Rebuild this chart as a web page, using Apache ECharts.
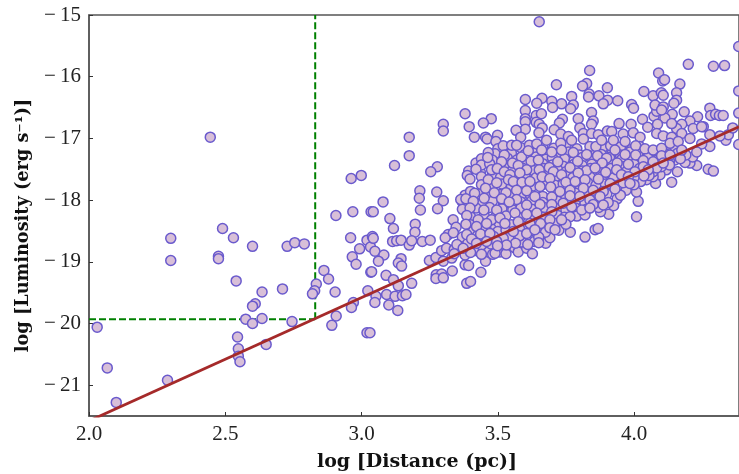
<!DOCTYPE html>
<html><head><meta charset="utf-8">
<style>html,body{margin:0;padding:0;background:#fff}#c{width:739px;height:474px}</style>
<script src="https://cdn.jsdelivr.net/npm/echarts@6/dist/echarts.min.js"></script>
</head><body><div id="c"></div>
<script>
const xTicks=[2.0,2.5,3.0,3.5,4.0];
const yTicks=[-21,-20,-19,-18,-17,-16,-15];
const fitLine=[[2.0,-21.58],[4.385,-16.81]];
const limitV=[[2.83,-19.93],[2.83,-15]];
const limitH=[[2.0,-19.93],[2.83,-19.93]];
const pointsNear=[[2.445,-16.98],[2.30,-18.62],[2.30,-18.98],[2.49,-18.46],[2.53,-18.61],[2.475,-18.91],[2.475,-18.95],[2.60,-18.75],[2.727,-18.75],[2.755,-18.69],[2.79,-18.71],[2.54,-19.31],[2.635,-19.49],[2.71,-19.44],[2.61,-19.68],[2.60,-19.72],[2.575,-19.93],[2.60,-20.0],[2.635,-19.92],[2.745,-19.97],[2.545,-20.22],[2.548,-20.41],[2.548,-20.53],[2.554,-20.62],[2.65,-20.34],[2.03,-20.06],[2.067,-20.72],[2.10,-21.28],[2.288,-20.92],[2.06,-21.53],[2.834,-19.36],[2.828,-19.47],[2.82,-19.52],[2.862,-19.14],[2.879,-19.28],[2.903,-19.49],[2.907,-19.88],[2.891,-20.03],[2.906,-18.25],[2.968,-18.19],[2.962,-17.65],[2.999,-17.60],[2.96,-18.61],[2.993,-18.79],[2.966,-18.92],[2.98,-19.04],[3.02,-18.65],[3.04,-18.59],[3.033,-18.76],[3.035,-18.19],[3.034,-19.17],[3.023,-19.47],[2.97,-19.66],[2.963,-19.74],[3.02,-20.15]];
const pointsOuter=[[3.652,-15.11],[3.837,-15.90],[4.199,-15.80],[4.291,-15.83],[4.332,-15.82],[4.384,-15.51],[4.384,-16.23],[4.384,-16.59],[4.384,-17.10],[4.09,-15.94],[4.105,-16.07],[4.112,-16.05],[4.168,-16.12],[4.036,-16.24],[4.07,-16.31],[4.10,-16.26],[4.107,-16.30],[4.156,-16.26],[4.156,-16.38],[4.146,-16.43],[3.715,-16.13],[3.826,-16.11],[3.811,-16.15],[3.902,-16.18],[3.835,-16.28],[3.833,-16.33],[3.871,-16.31],[3.903,-16.38],[3.887,-16.44],[3.94,-16.39],[3.991,-16.45],[3.998,-16.51],[3.771,-16.32],[3.777,-16.46],[3.767,-16.52],[3.734,-16.44],[3.698,-16.40],[3.701,-16.5],[3.662,-16.35],[3.643,-16.43],[3.601,-16.37],[3.601,-16.55],[3.601,-16.68],[3.601,-16.73],[3.641,-16.63],[3.66,-16.6],[3.641,-16.74],[3.652,-16.77],[3.663,-16.83],[3.651,-16.91],[3.601,-16.85],[3.567,-16.87],[3.584,-16.98],[3.38,-16.6],[3.476,-16.68],[3.447,-16.75],[3.395,-16.81],[3.30,-16.77],[3.30,-16.88],[3.414,-16.98],[3.455,-16.98],[3.461,-17.01],[3.499,-16.95],[3.493,-17.05],[3.175,-16.98],[3.175,-17.28],[3.121,-17.44],[3.278,-17.46],[3.254,-17.54],[3.42,-17.40],[3.393,-17.53],[3.388,-17.6],[3.398,-17.66],[3.436,-17.55],[3.214,-17.85],[3.212,-17.97],[3.276,-17.87],[3.30,-18.01],[3.279,-18.14],[3.216,-18.16],[3.079,-18.03],[3.043,-18.19],[3.104,-18.30],[3.117,-18.46],[3.197,-18.39],[3.196,-18.52],[3.336,-18.32],[3.347,-18.44],[3.114,-18.67],[3.129,-18.66],[3.145,-18.65],[3.175,-18.73],[3.184,-18.66],[3.223,-18.67],[3.252,-18.65],[3.318,-18.56],[3.307,-18.61],[3.337,-18.53],[3.043,-18.62],[3.049,-18.83],[3.082,-18.89],[3.062,-18.99],[3.145,-18.95],[3.135,-19.02],[3.147,-19.07],[3.037,-19.16],[3.09,-19.22],[3.117,-19.29],[3.135,-19.39],[3.184,-19.35],[3.053,-19.56],[3.092,-19.53],[3.123,-19.56],[3.15,-19.55],[3.163,-19.53],[3.049,-19.66],[3.1,-19.7],[3.133,-19.79],[3.031,-20.15],[3.249,-18.98],[3.273,-18.93],[3.294,-18.82],[3.312,-18.78],[3.34,-18.80],[3.371,-18.75],[3.30,-18.99],[3.331,-18.94],[3.274,-19.21],[3.294,-19.2],[3.273,-19.27],[3.30,-19.26],[3.333,-19.15],[3.38,-19.05],[3.393,-19.06],[3.38,-18.89],[3.386,-19.35],[3.40,-19.32],[3.438,-19.17],[3.455,-18.99],[3.465,-18.84],[3.428,-18.83],[3.481,-18.88],[3.508,-18.84],[3.561,-18.77],[3.575,-18.84],[3.606,-18.78],[3.627,-18.87],[3.581,-19.13],[3.587,-18.68],[3.634,-18.67],[3.676,-18.70],[3.691,-18.61],[3.724,-18.49],[3.766,-18.52],[3.82,-18.6],[3.857,-18.48],[3.868,-18.46],[4.009,-18.27],[3.907,-18.23],[3.877,-18.19],[4.015,-18.02],[4.009,-17.87],[3.971,-17.84],[3.938,-17.98],[3.925,-18.09],[4.138,-17.71],[4.079,-17.73],[4.046,-17.67],[4.024,-17.70],[4.159,-17.54],[4.272,-17.5],[4.291,-17.53],[4.23,-17.44],[4.205,-17.40],[4.187,-17.39],[4.118,-17.51],[4.095,-17.59],[4.07,-17.62],[4.215,-17.30],[4.15,-17.35],[4.278,-17.13],[4.248,-17.09],[4.337,-17.03],[4.346,-16.94],[4.362,-16.83],[4.315,-16.96],[4.278,-16.94],[4.254,-16.81],[4.233,-16.65],[4.278,-16.51],[4.281,-16.63],[4.299,-16.61],[4.313,-16.63],[4.327,-16.63],[4.205,-16.72],[4.175,-16.77],[4.14,-16.61],[4.184,-16.57],[4.113,-16.67],[4.073,-16.64],[4.083,-16.56],[4.077,-16.46],[4.107,-16.49],[4.101,-16.54],[4.031,-16.69],[4.05,-16.82],[4.086,-16.77],[3.989,-16.77],[3.945,-16.76],[4.217,-16.84],[4.248,-16.81],[4.156,-16.84],[4.138,-16.76],[3.844,-16.58],[3.795,-16.68],[3.85,-16.72],[3.844,-16.77],[3.801,-16.83],[3.737,-16.69],[3.726,-16.75],[3.707,-16.86],[3.731,-16.93],[3.759,-16.97],[3.814,-16.92],[3.844,-16.92],[3.869,-16.94],[3.902,-16.88],[3.918,-16.89],[3.96,-16.93],[3.997,-16.91],[4.022,-16.98],[4.083,-16.92],[4.107,-16.96],[4.138,-16.98],[4.175,-16.92]];
const pointsDense=[[3.52,-17.12],[3.551,-17.11],[3.569,-17.11],[3.616,-17.11],[3.643,-17.09],[3.679,-17.03],[3.731,-17.08],[3.771,-17.03],[3.814,-17.01],[3.838,-17.13],[3.86,-17.13],[3.881,-17.03],[3.914,-17.12],[3.924,-17.03],[3.967,-17.05],[4.006,-17.12],[4.04,-17.17],[4.07,-17.19],[4.101,-17.16],[4.132,-17.08],[4.162,-17.05],[4.205,-17.00],[3.465,-17.23],[3.524,-17.27],[3.587,-17.30],[3.612,-17.20],[3.661,-17.19],[3.698,-17.22],[3.734,-17.19],[3.777,-17.23],[3.826,-17.26],[3.866,-17.28],[3.899,-17.32],[3.93,-17.19],[3.967,-17.26],[4.006,-17.27],[4.034,-17.36],[4.07,-17.38],[4.101,-17.28],[4.132,-17.27],[4.175,-17.19],[3.463,-17.31],[3.514,-17.38],[3.554,-17.40],[3.622,-17.37],[3.575,-17.44],[3.649,-17.35],[3.689,-17.47],[3.72,-17.38],[3.765,-17.47],[3.793,-17.37],[3.826,-17.52],[3.883,-17.40],[3.938,-17.40],[3.979,-17.42],[4.034,-17.46],[4.083,-17.48],[3.477,-17.51],[3.498,-17.49],[3.524,-17.54],[3.545,-17.59],[3.606,-17.51],[3.581,-17.56],[3.652,-17.51],[3.704,-17.54],[3.734,-17.59],[3.795,-17.56],[3.857,-17.48],[3.896,-17.55],[3.936,-17.51],[3.954,-17.59],[4.003,-17.54],[4.052,-17.51],[4.107,-17.40],[3.465,-17.67],[3.496,-17.72],[3.539,-17.67],[3.557,-17.70],[3.589,-17.71],[3.618,-17.70],[3.663,-17.62],[3.691,-17.65],[3.75,-17.71],[3.784,-17.70],[3.82,-17.67],[3.869,-17.66],[3.912,-17.73],[3.979,-17.62],[4.036,-17.61],[3.455,-17.81],[3.487,-17.88],[3.53,-17.88],[3.569,-17.84],[3.606,-17.85],[3.655,-17.78],[3.694,-17.79],[3.728,-17.86],[3.765,-17.84],[3.814,-17.81],[3.85,-17.84],[3.887,-17.86],[3.93,-17.82],[3.985,-17.73],[3.40,-17.86],[3.415,-17.89],[3.364,-17.99],[3.383,-17.98],[3.41,-18.02],[3.45,-17.97],[3.514,-17.98],[3.569,-17.99],[3.636,-17.94],[3.698,-17.95],[3.765,-17.93],[3.801,-17.94],[3.875,-17.94],[3.838,-18.0],[3.398,-18.13],[3.449,-18.16],[3.496,-18.16],[3.542,-18.03],[3.606,-18.08],[3.655,-18.07],[3.698,-18.07],[3.74,-18.05],[3.771,-18.11],[3.808,-18.16],[3.85,-18.07],[3.887,-18.08],[3.386,-18.25],[3.428,-18.32],[3.477,-18.32],[3.508,-18.29],[3.563,-18.21],[3.606,-18.23],[3.643,-18.21],[3.698,-18.19],[3.765,-18.27],[3.838,-18.13],[3.383,-18.39],[3.422,-18.43],[3.459,-18.38],[3.526,-18.38],[3.575,-18.35],[3.618,-18.38],[3.657,-18.38],[3.691,-18.32],[3.75,-18.39],[3.734,-18.32],[3.386,-18.56],[3.404,-18.63],[3.437,-18.55],[3.471,-18.54],[3.52,-18.62],[3.557,-18.51],[3.606,-18.54],[3.636,-18.48],[3.691,-18.45],[3.71,-18.48],[3.459,-18.67],[3.496,-18.67],[3.532,-18.73],[3.499,-18.74],[3.422,-18.70],[3.373,-18.78]];
const pointsCore=[[3.50,-17.17],[3.535,-17.19],[3.585,-17.15],[3.63,-17.18],[3.665,-17.14],[3.705,-17.16],[3.75,-17.13],[3.79,-17.17],[3.845,-17.19],[3.885,-17.15],[3.95,-17.14],[3.99,-17.18],[4.02,-17.13],[4.12,-17.19],[4.15,-17.14],[3.49,-17.25],[3.55,-17.24],[3.60,-17.26],[3.64,-17.23],[3.68,-17.27],[3.72,-17.25],[3.76,-17.22],[3.80,-17.27],[3.85,-17.23],[3.88,-17.26],[3.92,-17.24],[3.95,-17.27],[3.985,-17.22],[4.02,-17.25],[4.05,-17.27],[4.085,-17.22],[4.12,-17.26],[4.16,-17.24],[4.19,-17.27],[4.23,-17.22],[3.44,-17.33],[3.48,-17.35],[3.535,-17.32],[3.57,-17.35],[3.60,-17.33],[3.64,-17.30],[3.675,-17.34],[3.70,-17.31],[3.745,-17.33],[3.78,-17.36],[3.81,-17.31],[3.845,-17.34],[3.87,-17.36],[3.91,-17.31],[3.955,-17.34],[3.99,-17.32],[4.015,-17.36],[4.05,-17.31],[4.09,-17.34],[4.13,-17.37],[4.17,-17.33],[3.44,-17.43],[3.47,-17.41],[3.53,-17.44],[3.56,-17.46],[3.60,-17.42],[3.635,-17.44],[3.665,-17.41],[3.70,-17.43],[3.74,-17.45],[3.78,-17.42],[3.81,-17.44],[3.845,-17.42],[3.90,-17.45],[3.92,-17.43],[3.96,-17.46],[4.0,-17.42],[4.05,-17.44],[4.10,-17.46],[4.13,-17.43],[3.42,-17.5],[3.50,-17.55],[3.555,-17.5],[3.59,-17.48],[3.63,-17.52],[3.67,-17.49],[3.72,-17.51],[3.75,-17.54],[3.78,-17.49],[3.81,-17.53],[3.84,-17.49],[3.875,-17.52],[3.915,-17.49],[3.975,-17.52],[4.02,-17.49],[4.07,-17.54],[3.44,-17.62],[3.48,-17.6],[3.51,-17.63],[3.56,-17.64],[3.60,-17.61],[3.64,-17.64],[3.68,-17.6],[3.71,-17.63],[3.75,-17.61],[3.775,-17.64],[3.81,-17.6],[3.84,-17.63],[3.885,-17.61],[3.925,-17.64],[3.96,-17.61],[4.00,-17.63],[4.055,-17.6],[3.44,-17.75],[3.475,-17.77],[3.515,-17.74],[3.55,-17.77],[3.58,-17.75],[3.625,-17.78],[3.67,-17.74],[3.71,-17.76],[3.74,-17.74],[3.77,-17.77],[3.80,-17.75],[3.83,-17.72],[3.86,-17.76],[3.895,-17.74],[3.94,-17.76],[3.96,-17.72],[4.0,-17.75],[3.38,-17.92],[3.43,-17.9],[3.47,-17.93],[3.51,-17.91],[3.545,-17.94],[3.59,-17.9],[3.62,-17.92],[3.665,-17.94],[3.71,-17.9],[3.745,-17.93],[3.785,-17.89],[3.83,-17.91],[3.86,-17.93],[3.90,-17.9],[3.95,-17.92],[3.37,-18.03],[3.44,-18.05],[3.48,-18.02],[3.52,-18.04],[3.55,-18.07],[3.585,-18.03],[3.625,-18.01],[3.665,-18.04],[3.72,-18.02],[3.755,-18.04],[3.785,-18.01],[3.82,-18.05],[3.865,-18.02],[3.905,-18.04],[3.37,-18.15],[3.42,-18.13],[3.47,-18.12],[3.515,-18.14],[3.555,-18.16],[3.585,-18.13],[3.625,-18.15],[3.67,-18.12],[3.72,-18.14],[3.75,-18.16],[3.785,-18.13],[3.825,-18.15],[3.87,-18.12],[3.40,-18.27],[3.45,-18.25],[3.49,-18.28],[3.53,-18.26],[3.58,-18.29],[3.62,-18.26],[3.665,-18.28],[3.72,-18.25],[3.745,-18.28],[3.79,-18.26],[3.82,-18.24],[3.40,-18.4],[3.44,-18.38],[3.49,-18.41],[3.505,-18.37],[3.55,-18.4],[3.59,-18.42],[3.635,-18.39],[3.675,-18.41],[3.71,-18.38],[3.41,-18.5],[3.455,-18.48],[3.50,-18.51],[3.53,-18.49],[3.58,-18.47],[3.62,-18.5],[3.66,-18.47],[3.675,-18.52],[3.37,-18.6],[3.425,-18.58],[3.45,-18.61],[3.485,-18.59],[3.54,-18.61],[3.58,-18.58],[3.65,-18.6],[3.35,-18.72],[3.39,-18.7],[3.44,-18.73],[3.475,-18.71],[3.515,-18.73],[3.565,-18.7],[3.61,-18.72],[3.65,-18.69],[3.34,-18.87],[3.40,-18.85],[3.44,-18.88],[3.49,-18.86],[3.53,-18.87]];

const serif='"Liberation Serif",serif';
const nameFont='"DejaVu Serif",serif';
const minus=v=>String(v).replace('-','\u2212\u2009');
const chart=echarts.init(document.getElementById('c'),null,{renderer:'canvas'});
const axisCommon=(ticks,fmt)=>({
  axisLine:{show:true,onZero:false,lineStyle:{color:'#555',width:1.5}},
  axisTick:{show:true,inside:true,length:4,customValues:ticks,lineStyle:{color:'#333',width:1}},
  axisLabel:{customValues:ticks,formatter:fmt,color:'#222',fontFamily:serif,fontSize:21,margin:8,hideOverlap:false},
  splitLine:{show:false},
  nameLocation:'middle'
});
const nameStyle=(size,pad)=>({fontFamily:nameFont,fontWeight:'bold',fontSize:size,color:'#111',padding:pad});
const pointSeries=d=>({type:'scatter',data:d,symbol:'circle',symbolSize:10,z:3,
  itemStyle:{color:'#d8bfd8',borderColor:'#6a5acd',borderWidth:1.5,opacity:1},clip:true,silent:true});
const lineSeries=(d,c,w,t,z)=>({type:'line',data:d,showSymbol:false,symbol:'none',z:z,clip:true,silent:true,
  lineStyle:{color:c,width:w,type:t}});
chart.setOption({
  animation:false,backgroundColor:'#fff',
  grid:{left:89,right:0,top:15,bottom:58,outerBoundsMode:'none',show:true,borderColor:'#555',borderWidth:1.5,backgroundColor:'transparent'},
  xAxis:Object.assign({type:'value',min:2,max:4.385,name:'log [Distance (pc)]',nameGap:37,nameTextStyle:nameStyle(19,[0,0,0,6])},axisCommon(xTicks,v=>Number(v).toFixed(1))),
  yAxis:Object.assign({type:'value',min:-21.5,max:-15,name:'log [Luminosity (erg s\u207B\u00B9)]',nameGap:57,nameTextStyle:nameStyle(17.7,[0,20,0,0])},axisCommon(yTicks,minus)),
  series:[
    lineSeries(limitV,'#008000',2,[7,3],2),
    lineSeries(limitH,'#008000',2,[7,3],2),
    pointSeries(pointsNear),pointSeries(pointsOuter),pointSeries(pointsCore),pointSeries(pointsDense),
    lineSeries(fitLine,'#a52a2a',2.8,'solid',5)
  ]
});
</script></body></html>
